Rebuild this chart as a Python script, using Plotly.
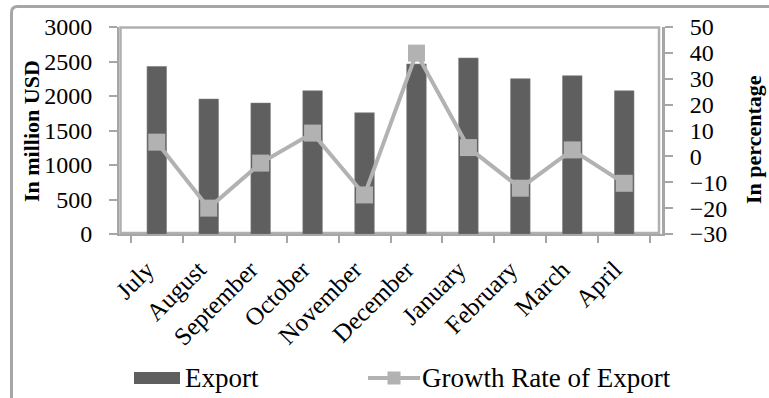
import plotly.graph_objects as go

months = ["July", "August", "September", "October", "November",
          "December", "January", "February", "March", "April"]
export_musd = [2428, 1955, 1897, 2075, 1756, 2463, 2550, 2250, 2293, 2075]
growth_pct = [5.5, -20.0, -2.6, 9.0, -14.9, 39.9, 3.4, -12.3, 2.5, -10.4]

W, H = 769, 398
L, R, T, B = 119, 107, 27, 164
PW, PH = W - L - R, H - T - B


def px(x):
    return (x - L) / PW


def py(y):
    return (H - B - y) / PH


FONT = "Liberation Serif"
BAR_COLOR = "#5f5f5f"
LINE_COLOR = "#b2b2b2"
AXIS_COLOR = "#a6a6a6"

fig = go.Figure()
fig.add_trace(go.Bar(
    x=months, y=export_musd, name="Export",
    marker=dict(color=BAR_COLOR, line=dict(color="#7a7a7a", width=0.6)),
    yaxis="y",
))
fig.add_trace(go.Scatter(
    x=months, y=growth_pct, name="Growth Rate of Export",
    mode="lines+markers",
    line=dict(color=LINE_COLOR, width=4),
    marker=dict(symbol="square", size=17, color=LINE_COLOR),
    yaxis="y2",
))

shapes = []
# outer chart frame (rounded top-left corner, extends past window)
x0, y0 = px(11.5), py(6.5)
rx, ry = 6 / PW, 6 / PH
shapes.append(dict(
    type="path", xref="paper", yref="paper",
    path=f"M {px(11.5)},{py(430)} L {x0},{y0 - ry} Q {x0},{y0} {x0 + rx},{y0} L {px(800)},{y0}",
    line=dict(color=AXIS_COLOR, width=3),
))
# plot area frame
shapes.append(dict(
    type="rect", xref="paper", yref="paper",
    x0=px(120.5), x1=px(659), y0=py(233), y1=py(27.5),
    line=dict(color="#b0b0b0", width=2.5), layer="below",
))
# legend symbols
shapes.append(dict(
    type="rect", xref="paper", yref="paper",
    x0=px(134), x1=px(180), y0=py(384), y1=py(372),
    line=dict(width=0), fillcolor=BAR_COLOR,
))
shapes.append(dict(
    type="line", xref="paper", yref="paper",
    x0=px(368), x1=px(420), y0=py(378), y1=py(378),
    line=dict(color=LINE_COLOR, width=4),
))
shapes.append(dict(
    type="rect", xref="paper", yref="paper",
    x0=px(387.5), x1=px(400.5), y0=py(384.5), y1=py(371.5),
    line=dict(width=0), fillcolor=LINE_COLOR,
))

annotations = [
    dict(text="<b>In million USD</b>", xref="paper", yref="paper",
         x=px(31), y=py(131), textangle=-90, showarrow=False,
         xanchor="center", yanchor="middle",
         font=dict(family=FONT, size=22, color="black")),
    dict(text="<b>In percentage</b>", xref="paper", yref="paper",
         x=px(753), y=py(140), textangle=-90, showarrow=False,
         xanchor="center", yanchor="middle",
         font=dict(family=FONT, size=22, color="black")),
    dict(text="Export", xref="paper", yref="paper",
         x=px(183), y=py(378), showarrow=False,
         xanchor="left", yanchor="middle",
         font=dict(family=FONT, size=27, color="black")),
    dict(text="Growth Rate of Export", xref="paper", yref="paper",
         x=px(420), y=py(378), showarrow=False,
         xanchor="left", yanchor="middle",
         font=dict(family=FONT, size=27, color="black")),
]

fig.update_layout(
    width=W, height=H,
    margin=dict(l=L, r=R, t=T, b=B, pad=0),
    paper_bgcolor="white", plot_bgcolor="white",
    showlegend=False,
    bargap=0.625,
    font=dict(family=FONT, size=24, color="black"),
    xaxis=dict(
        type="category", tickangle=-45, tickson="boundaries",
        ticks="outside", ticklen=7, tickcolor=AXIS_COLOR, tickwidth=1.5,
        showline=True, linecolor=AXIS_COLOR, linewidth=2,
        showgrid=False, tickfont=dict(family=FONT, size=25),
        ticklabelstandoff=9, ticklabelshift=-10,
    ),
    yaxis=dict(
        range=[0, 3000], dtick=500, tick0=0,
        ticks="outside", ticklen=8, tickcolor=AXIS_COLOR, tickwidth=1.5,
        showline=True, linecolor=AXIS_COLOR, linewidth=2,
        showgrid=False, zeroline=False,
        tickfont=dict(family=FONT, size=24),
        ticklabelstandoff=12,
    ),
    yaxis2=dict(
        range=[-30, 50], dtick=10, tick0=-30,
        overlaying="y", side="right",
        ticks="outside", ticklen=8, tickcolor=AXIS_COLOR, tickwidth=1.5,
        showline=True, linecolor=AXIS_COLOR, linewidth=3,
        showgrid=False, zeroline=False,
        tickfont=dict(family=FONT, size=24),
        ticklabelstandoff=12,
    ),
    shapes=shapes,
    annotations=annotations,
)

fig.write_html("out.html")
